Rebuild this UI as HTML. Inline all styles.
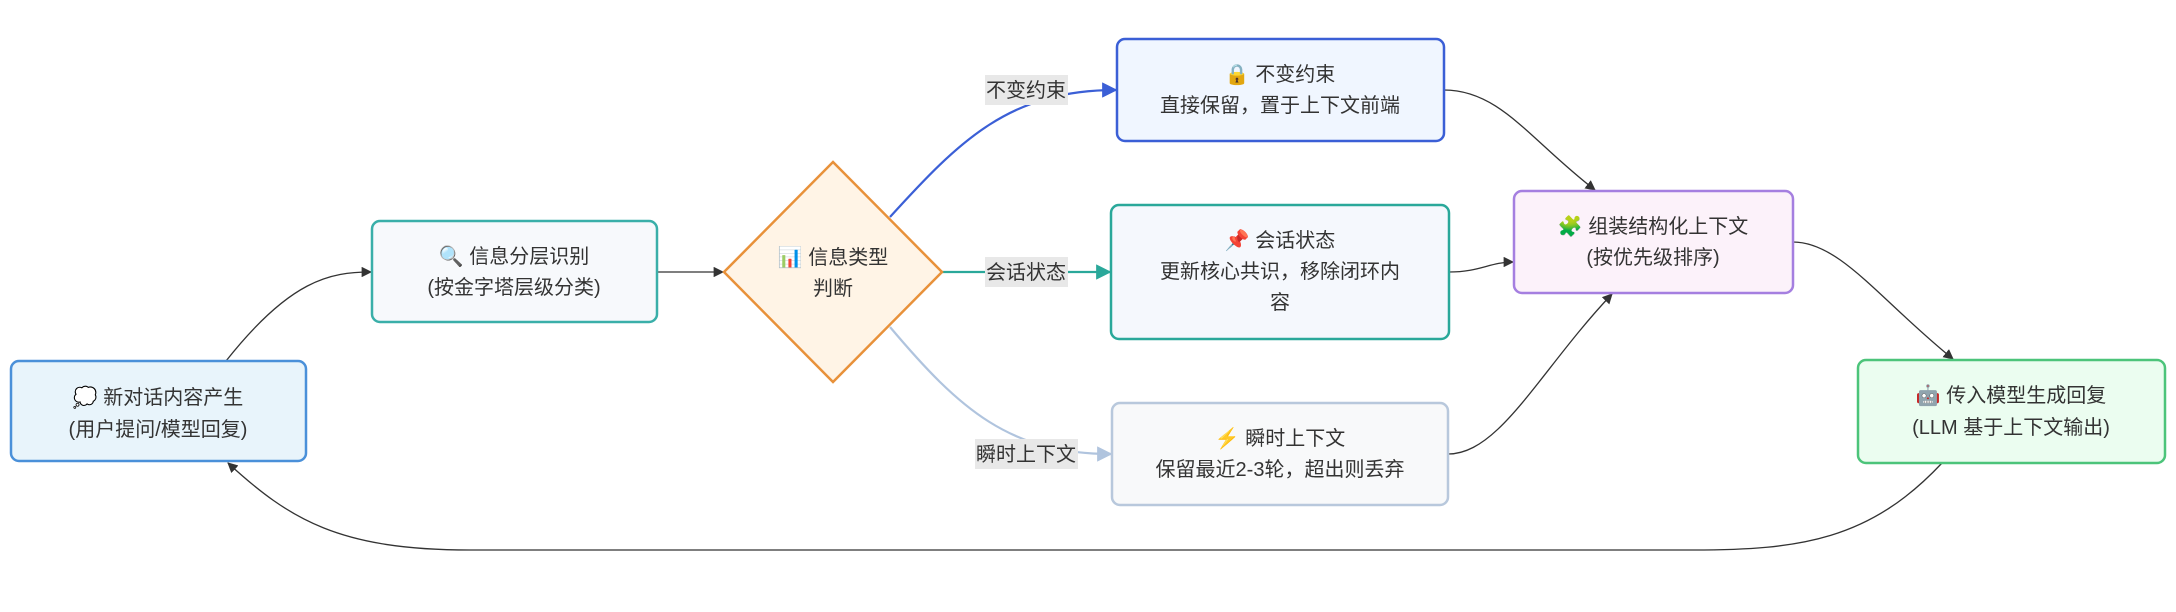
<!DOCTYPE html>
<html><head><meta charset="utf-8"><style>
html,body{margin:0;padding:0;background:#fff;}
svg text{font-family:"Liberation Sans","Noto Sans CJK SC",sans-serif;font-size:20px;fill:#333;}
</style></head><body>
<svg width="2176" height="607" viewBox="0 0 2176 607" xmlns="http://www.w3.org/2000/svg">
<defs>
<marker id="ab" viewBox="0 0 10 10" refX="9" refY="5" markerWidth="8" markerHeight="8" orient="auto"><path d="M0,0L10,5L0,10z" fill="#333"/></marker>
<marker id="abl" viewBox="0 0 10 10" refX="9" refY="5" markerWidth="7" markerHeight="7" orient="auto"><path d="M0,0L10,5L0,10z" fill="#3b5fd6"/></marker>
<marker id="at" viewBox="0 0 10 10" refX="9" refY="5" markerWidth="7" markerHeight="7" orient="auto"><path d="M0,0L10,5L0,10z" fill="#2aa89a"/></marker>
<marker id="al" viewBox="0 0 10 10" refX="9" refY="5" markerWidth="7" markerHeight="7" orient="auto"><path d="M0,0L10,5L0,10z" fill="#b0c4de"/></marker>
</defs>
<g fill="none" stroke="#333" stroke-width="1.3">
<path d="M226,361 C290,280 330,272 371,272" marker-end="url(#ab)"/>
<path d="M657,272 L723,272" marker-end="url(#ab)"/>
<path d="M1444,90 C1500,90 1530,140 1595,190" marker-end="url(#ab)"/>
<path d="M1449,272 C1480,272 1490,262 1513,262" marker-end="url(#ab)"/>
<path d="M1448,454 C1500,454 1540,370 1612,294" marker-end="url(#ab)"/>
<path d="M1793,242 C1840,242 1880,300 1953,359" marker-end="url(#ab)"/>
<path d="M1942,463 C1870,540 1800,550 1693,550 L470,550 C340,550 290,520 228,463" marker-end="url(#ab)"/>
</g>
<path d="M890,217 C960,140 1010,90 1116,90" fill="none" stroke="#3b5fd6" stroke-width="2.2" marker-end="url(#abl)"/>
<path d="M942,272 L1110,272" fill="none" stroke="#2aa89a" stroke-width="2.2" marker-end="url(#at)"/>
<path d="M890,327 C960,410 1010,454 1111,454" fill="none" stroke="#b0c4de" stroke-width="2.2" marker-end="url(#al)"/>
<rect x="11" y="361" width="295" height="100" rx="8" fill="#e8f4fb" stroke="#4a90d9" stroke-width="2.5"/>
<rect x="372" y="221" width="285" height="101" rx="8" fill="#f7f9fc" stroke="#3aafa9" stroke-width="2.5"/>
<polygon points="833,162 942,272 833,382 724,272" fill="#fff4e6" stroke="#e8913a" stroke-width="2.5"/>
<rect x="1117" y="39" width="327" height="102" rx="8" fill="#f0f6ff" stroke="#3b5fd6" stroke-width="2.5"/>
<rect x="1111" y="205" width="338" height="134" rx="8" fill="#f5f8fd" stroke="#2aa89a" stroke-width="2.5"/>
<rect x="1112" y="403" width="336" height="102" rx="8" fill="#f8f9fa" stroke="#b8c8dc" stroke-width="2.5"/>
<rect x="1514" y="191" width="279" height="102" rx="8" fill="#fcf2fa" stroke="#a57fe0" stroke-width="2.5"/>
<rect x="1858" y="360" width="307" height="103" rx="8" fill="#ebfdf0" stroke="#4cc47a" stroke-width="2.5"/>
<rect x="985" y="75" width="83" height="30" fill="#e8e8e8"/>
<rect x="985" y="257" width="83" height="30" fill="#e8e8e8"/>
<rect x="975" y="439" width="103" height="30" fill="#e8e8e8"/>
<g text-anchor="middle">
<text x="1026" y="97">不变约束</text>
<text x="1026" y="279">会话状态</text>
<text x="1026" y="461">瞬时上下文</text>
<text x="158" y="404">💭 新对话内容产生</text>
<text x="158" y="436">(用户提问/模型回复)</text>
<text x="514" y="263">🔍 信息分层识别</text>
<text x="514" y="294">(按金字塔层级分类)</text>
<text x="833" y="264">📊 信息类型</text>
<text x="833" y="295">判断</text>
<text x="1280" y="81">🔒 不变约束</text>
<text x="1280" y="112">直接保留，置于上下文前端</text>
<text x="1280" y="247">📌 会话状态</text>
<text x="1280" y="278">更新核心共识，移除闭环内</text>
<text x="1280" y="309">容</text>
<text x="1280" y="445">⚡ 瞬时上下文</text>
<text x="1280" y="476">保留最近2-3轮，超出则丢弃</text>
<text x="1653" y="233">🧩 组装结构化上下文</text>
<text x="1653" y="264">(按优先级排序)</text>
<text x="2011" y="402">🤖 传入模型生成回复</text>
<text x="2011" y="434">(LLM 基于上下文输出)</text>
</g>
</svg>
</body></html>
